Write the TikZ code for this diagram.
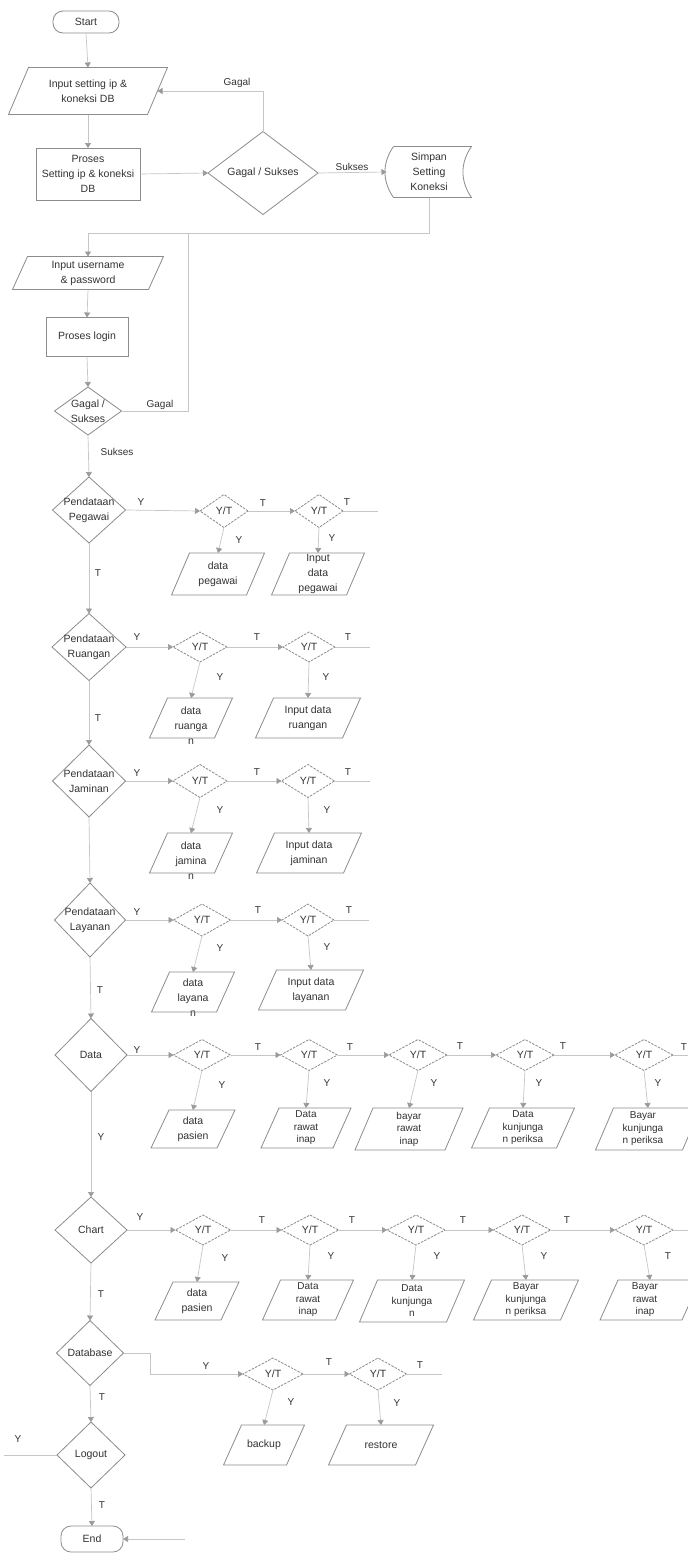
\documentclass[tikz,border=0pt]{standalone}
\usepackage{fontspec}
\setmainfont{Liberation Sans}
\usetikzlibrary{shapes.geometric,arrows.meta,calc}
\definecolor{shp}{HTML}{8C8C8C}
\definecolor{conn}{HTML}{C6C6C6}
\definecolor{arrc}{HTML}{9A9A9A}
\definecolor{txtc}{HTML}{333333}
\tikzset{
 shpline/.style={draw=shp, line width=0.8pt},
 wh/.style 2 args={minimum width=#1pt, minimum height=#2pt},
 fcbase/.style={inner sep=0pt, outer sep=0pt},
 fcproc/.style={fcbase, rectangle, shpline},
 fcterm/.style={fcbase, rectangle, rounded corners=10pt, shpline},
 fcio/.style={fcbase, rectangle},
 fcdec/.style={fcbase, diamond, shpline},
 fcyt/.style={fcbase, diamond, shpline, dash pattern=on 2.5pt off 1.2pt},
 fctx/.style={text=txtc, align=center, inner sep=0pt, font=\fontsize{10.5}{15}\selectfont},
 fctxs/.style={text=txtc, align=center, inner sep=0pt, font=\fontsize{10}{12.5}\selectfont},
 fclab/.style={text=txtc, inner sep=0pt, font=\fontsize{10}{12}\selectfont},
 fccon/.style={draw=conn, line width=0.7pt},
 fcarr/.style={fccon, -{Triangle[width=6pt,length=5pt,color=arrc]}},
}
\newcommand\fcpara[2][18pt]{\draw[shpline] ([xshift=#1]#2.north west) -- (#2.north east) -- ([xshift=-#1]#2.south east) -- (#2.south west) -- cycle;}
\newcommand\fcstore[1]{\draw[shpline] ([xshift=7pt]#1.north west) -- (#1.north east) to[bend right=35] (#1.south east) -- ([xshift=7pt]#1.south west) to[bend left=35] ([xshift=7pt]#1.north west);}
\begin{document}
\begin{tikzpicture}[x=1pt,y=-1pt]
\path[use as bounding box, fill=white] (0,0) rectangle (688,1553);

% ---------- top part ----------
\node[fcterm, wh={66}{22}, label={[fctx]center:Start}] (start) at (86,22) {};
\node[fcio, wh={159}{47}, label={[fctx]center:{Input setting ip \&\\koneksi DB}}] (in1) at (88,91) {};
\node[fcproc, wh={104}{52}, label={[fctx]center:{Proses\\Setting ip \& koneksi\\DB}}] (pr1) at (88,174) {};
\node[fcdec, wh={110}{83}, label={[fctx]center:{Gagal / Sukses}}] (d1) at (263,173) {};
\node[fcio, wh={85}{51}, label={[fctx]center:{Simpan\\Setting\\Koneksi}}] (sim) at (429,172) {};
\node[fcio, wh={151}{33}, label={[fctx]center:{Input username\\\& password}}] (in2) at (88,273) {};
\node[fcproc, wh={82}{39}, label={[fctx]center:Proses login}] (pr2) at (87,337) {};
\node[fcdec, wh={67}{48}, label={[fctx]center:{Gagal /\\Sukses}}] (d2) at (88,411) {};

% ---------- Pendataan Pegawai ----------
\node[fcdec, wh={73}{66}, label={[fctx]center:{Pendataan\\Pegawai}}] (pg) at (89,510) {};
\node[fcyt, wh={48}{33}, label={[fctx]center:Y/T}] (pgA) at (224,511) {};
\node[fcyt, wh={48}{33}, label={[fctx]center:Y/T}] (pgB) at (319,511) {};
\node[fcio, wh={93}{42}, label={[fctx]center:{data\\pegawai}}] (pgP) at (218,574) {};
\node[fcio, wh={93}{42}, label={[fctx]center:{Input\\data\\pegawai}}] (pgQ) at (318,574) {};

% ---------- Pendataan Ruangan ----------
\node[fcdec, wh={74}{67}, label={[fctx]center:{Pendataan\\Ruangan}}] (rg) at (89,647) {};
\node[fcyt, wh={54}{30}, label={[fctx]center:Y/T}] (rgA) at (200,647) {};
\node[fcyt, wh={52}{30}, label={[fctx]center:Y/T}] (rgB) at (309,647) {};
\node[fcio, wh={83}{40}, label={[fctx,yshift=-8pt]center:{data\\ruanga\\n}}] (rgP) at (191,718) {};
\node[fcio, wh={105}{40}, label={[fctx]center:{Input data\\ruangan}}] (rgQ) at (308,718) {};

% ---------- Pendataan Jaminan ----------
\node[fcdec, wh={73}{72}, label={[fctx]center:{Pendataan\\Jaminan}}] (jm) at (89,781) {};
\node[fcyt, wh={54}{33}, label={[fctx]center:Y/T}] (jmA) at (200,781) {};
\node[fcyt, wh={53}{33}, label={[fctx]center:Y/T}] (jmB) at (308,781) {};
\node[fcio, wh={83}{40}, label={[fctx,yshift=-8pt]center:{data\\jamina\\n}}] (jmP) at (191,853) {};
\node[fcio, wh={105}{40}, label={[fctx]center:{Input data\\jaminan}}] (jmQ) at (309,853) {};

% ---------- Pendataan Layanan ----------
\node[fcdec, wh={71}{74}, label={[fctx]center:{Pendataan\\Layanan}}] (ly) at (90,920) {};
\node[fcyt, wh={57}{32}, label={[fctx]center:Y/T}] (lyA) at (202,920) {};
\node[fcyt, wh={52}{32}, label={[fctx]center:Y/T}] (lyB) at (308,920) {};
\node[fcio, wh={83}{40}, label={[fctx,yshift=-6pt]center:{data\\layana\\n}}] (lyP) at (193,992) {};
\node[fcio, wh={105}{40}, label={[fctx]center:{Input data\\layanan}}] (lyQ) at (311,990) {};

% ---------- Data ----------
\node[fcdec, wh={72}{73}, label={[fctx]center:Data}] (dt) at (91,1055) {};
\node[fcyt, wh={57}{31}, label={[fctx]center:Y/T}] (dtA) at (202,1055) {};
\node[fcyt, wh={57}{31}, label={[fctx]center:Y/T}] (dtB) at (309,1055) {};
\node[fcyt, wh={58}{31}, label={[fctx]center:Y/T}] (dtC) at (418,1055) {};
\node[fcyt, wh={58}{31}, label={[fctx]center:Y/T}] (dtD) at (525,1055) {};
\node[fcyt, wh={58}{31}, label={[fctx]center:Y/T}] (dtE) at (644,1055) {};
\node[fcio, wh={84}{38}, label={[fctx]center:{data\\pasien}}] (dtP) at (193,1129) {};
\node[fcio, wh={90}{40}, label={[fctxs]center:{Data\\rawat\\inap}}] (dtQ) at (306,1128) {};
\node[fcio, wh={108}{42}, label={[fctxs]center:{bayar\\rawat\\inap}}] (dtR) at (409,1129) {};
\node[fcio, wh={103}{40}, label={[fctxs]center:{Data\\kunjunga\\n periksa}}] (dtS) at (523,1128) {};
\node[fcio, wh={105}{42}, label={[fctxs,xshift=-5pt]center:{Bayar\\kunjunga\\n periksa}}] (dtT) at (648,1129) {};

% ---------- Chart ----------
\node[fcdec, wh={72}{66}, label={[fctx]center:Chart}] (ch) at (91,1230) {};
\node[fcyt, wh={55}{30}, label={[fctx]center:Y/T}] (chA) at (203,1230) {};
\node[fcyt, wh={57}{30}, label={[fctx]center:Y/T}] (chB) at (310,1230) {};
\node[fcyt, wh={58}{30}, label={[fctx]center:Y/T}] (chC) at (416,1230) {};
\node[fcyt, wh={57}{30}, label={[fctx]center:Y/T}] (chD) at (522,1230) {};
\node[fcyt, wh={58}{30}, label={[fctx]center:Y/T}] (chE) at (644,1230) {};
\node[fcio, wh={84}{38}, label={[fctx]center:{data\\pasien}}] (chP) at (197,1301) {};
\node[fcio, wh={91}{40}, label={[fctxs]center:{Data\\rawat\\inap}}] (chQ) at (308,1300) {};
\node[fcio, wh={105}{42}, label={[fctxs]center:{Data\\kunjunga\\n}}] (chR) at (412,1301) {};
\node[fcio, wh={105}{40}, label={[fctxs]center:{Bayar\\kunjunga\\n periksa}}] (chS) at (526,1300) {};
\node[fcio, wh={100}{40}, label={[fctxs,xshift=-5pt]center:{Bayar\\rawat\\inap}}] (chT) at (650,1300) {};

% ---------- Database / Logout / End ----------
\node[fcdec, wh={67}{65}, label={[fctx]center:Database}] (db) at (90,1353) {};
\node[fcyt, wh={60}{32}, label={[fctx]center:Y/T}] (dbA) at (273,1374) {};
\node[fcyt, wh={57}{32}, label={[fctx]center:Y/T}] (dbB) at (378,1374) {};
\node[fcio, wh={81}{40}, label={[fctx]center:backup}] (dbP) at (264,1445) {};
\node[fcio, wh={105}{40}, label={[fctx]center:restore}] (dbQ) at (381,1445) {};
\node[fcdec, wh={68}{66}, label={[fctx]center:Logout}] (lg) at (91,1455) {};
\node[fcterm, wh={62}{26}, label={[fctx]center:End}] (end) at (92,1539) {};

% ---------- shapes drawn around nodes ----------
\fcpara[20pt]{in1}
\fcpara[15pt]{in2}
\foreach \n in {pgP,pgQ,rgP,rgQ,jmP,jmQ,lyP,lyQ,dtP,dtQ,dtR,dtS,dtT,chP,chQ,chR,chS,chT,dbP,dbQ}{\fcpara{\n}}
\fcstore{sim}

% ---------- connectors ----------
\coordinate (in1r) at ($(in1.east)+(-10pt,0)$);
\coordinate (j1) at (429,233);
\coordinate (j2) at (188,233);
\coordinate (g2) at (188,411);
\draw[fcarr] (start.south) -- (in1.north);
\draw[fcarr] (in1.south) -- (pr1.north);
\draw[fcarr] (pr1.east) -- (d1.west);
\draw[fcarr] (d1.east) -- (sim.west);
\draw[fcarr] (d1.north) |- (in1r);
\draw[fcarr] (sim.south) -- (j1) -| (in2.north);
\draw[fccon] (d2.east) -- (g2) -- (j2);
\draw[fcarr] (in2.south) -- (pr2.north);
\draw[fcarr] (pr2.south) -- (d2.north);
\draw[fcarr] (d2.south) -- (pg.north);
\draw[fcarr] (pg.south) -- (rg.north);
\draw[fcarr] (rg.south) -- (jm.north);
\draw[fcarr] (jm.south) -- (ly.north);
\draw[fcarr] (ly.south) -- (dt.north);
\draw[fcarr] (dt.south) -- (ch.north);
\draw[fcarr] (ch.south) -- (db.north);
\draw[fcarr] (db.south) -- (lg.north);
\draw[fcarr] (lg.south) -- (end.north);

\foreach \r in {pg,rg,jm,ly}{
  \coordinate (\r Bo) at ($(\r B.east)+(35pt,0)$);
  \draw[fcarr] (\r.east) -- (\r A.west);
  \draw[fcarr] (\r A.east) -- (\r B.west);
  \draw[fccon] (\r B.east) -- (\r Bo);
  \draw[fcarr] (\r A.south) -- (\r P.north);
  \draw[fcarr] (\r B.south) -- (\r Q.north);
}
\foreach \r in {dt,ch}{
  \coordinate (\r Eo) at ($(\r E.east)+(30pt,0)$);
  \draw[fcarr] (\r.east) -- (\r A.west);
  \draw[fcarr] (\r A.east) -- (\r B.west);
  \draw[fcarr] (\r B.east) -- (\r C.west);
  \draw[fcarr] (\r C.east) -- (\r D.west);
  \draw[fcarr] (\r D.east) -- (\r E.west);
  \draw[fccon] (\r E.east) -- (\r Eo);
  \draw[fcarr] (\r A.south) -- (\r P.north);
  \draw[fcarr] (\r B.south) -- (\r Q.north);
  \draw[fcarr] (\r C.south) -- (\r R.north);
  \draw[fcarr] (\r D.south) -- (\r S.north);
  \draw[fcarr] (\r E.south) -- (\r T.north);
}
\coordinate (dbk) at (150,1353);
\coordinate (dbBo) at ($(dbB.east)+(35pt,0)$);
\draw[fcarr] (db.east) -- (dbk) |- (dbA.west);
\draw[fcarr] (dbA.east) -- (dbB.west);
\draw[fccon] (dbB.east) -- (dbBo);
\draw[fcarr] (dbA.south) -- (dbP.north);
\draw[fcarr] (dbB.south) -- (dbQ.north);
\coordinate (lgo) at (4,1455);
\draw[fccon] (lg.west) -- (lgo);
\coordinate (endi) at (185,1539);
\draw[fcarr] (endi) -- (end.east);

% ---------- connector labels ----------
\foreach \t/\x/\y [count=\i] in {
 Gagal/237/83, Sukses/352/167, Gagal/160/405, Sukses/117/452,
 Y/141/502, T/263/503, T/347/502, Y/239/540, Y/332/538, T/98/573,
 Y/137/637, T/257/637, T/348/637, Y/220/677, Y/326/677, T/98/718,
 Y/137/773, T/257/772, T/348/772, Y/220/810, Y/327/810,
 Y/137/912, T/258/910, T/349/910, Y/220/948, Y/327/947, T/100/990,
 Y/137/1050, T/258/1047, T/350/1047, T/460/1046, T/563/1046, T/684/1047,
 Y/222/1085, Y/327/1083, Y/434/1083, Y/539/1083, Y/658/1083, Y/101/1137,
 Y/140/1217, T/262/1220, T/352/1220, T/463/1220, T/567/1220,
 Y/225/1258, Y/331/1256, Y/437/1256, Y/544/1256, T/668/1256, T/101/1294,
 Y/206/1366, T/329/1362, T/420/1365, Y/291/1402, Y/397/1403, T/102/1397,
 Y/18/1439, T/102/1505}{
  \node[fclab] (lb\i) at (\x,\y) {\t};
}
\end{tikzpicture}
\end{document}
